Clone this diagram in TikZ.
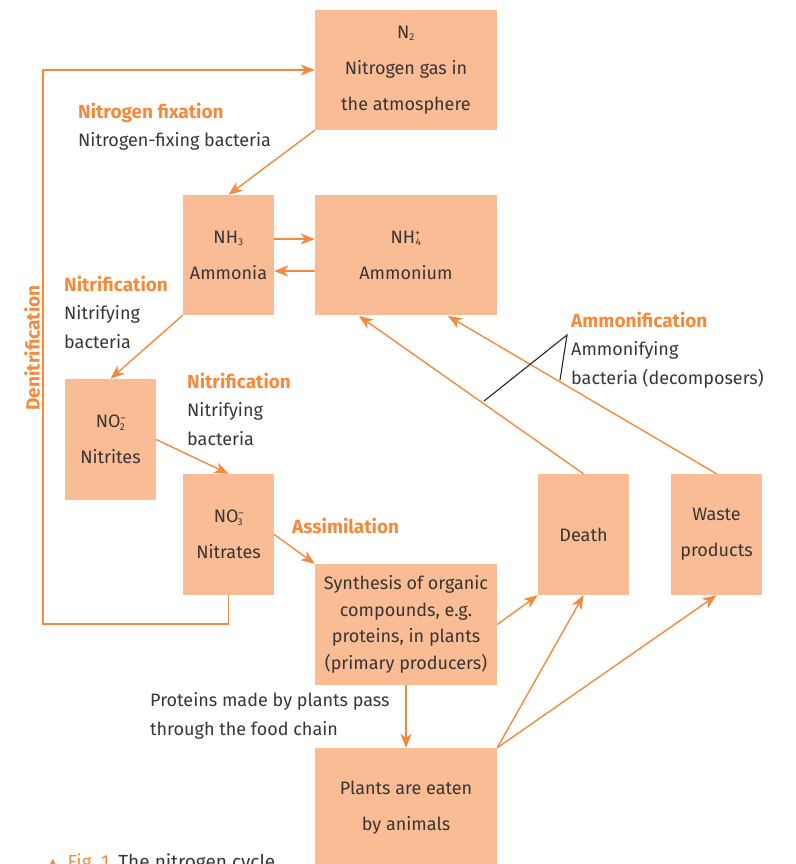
\documentclass[tikz,border=0pt]{standalone}
\usepackage{fontspec}
\setmainfont{Fira Sans}
\newfontfamily\symfont{DejaVu Sans}
\usetikzlibrary{arrows.meta}
\definecolor{boxfill}{HTML}{F9BC94}
\definecolor{orng}{HTML}{F58A3C}
\definecolor{txt}{HTML}{383535}
\tikzset{
  box/.style={fill=boxfill, inner sep=0pt, align=center, text=txt,
    font=\fontsize{18}{36}\selectfont},
  arr/.style={draw=orng, line width=1.4pt, -{Stealth[length=14pt,width=11pt,inset=4pt]}},
  proc/.style={text=orng, font=\fontsize{19}{29}\selectfont\bfseries, inner sep=0pt, anchor=north west, align=left},
  lab/.style={text=txt, font=\fontsize{18}{29.5}\selectfont, inner sep=0pt, anchor=north west, align=left},
  brk/.style={draw=black!85, line width=1.1pt}
}
\begin{document}
\begin{tikzpicture}[x=1pt,y=-1pt]
\useasboundingbox (0,0) rectangle (795,864);
% boxes
\node[box, minimum width=182pt, minimum height=120pt] (n2) at (406,70) {N\textsubscript{\fontsize{10}{10}\selectfont 2}\\Nitrogen gas in\\the atmosphere};
\node[box, minimum width=91pt, minimum height=120pt] (nh3) at (228.5,255) {NH\textsubscript{\fontsize{10}{10}\selectfont 3}\\Ammonia};
\node[box, minimum width=182pt, minimum height=120pt] (nh4) at (406,255) {NH\textsuperscript{\fontsize{10}{10}\selectfont +}\kern-5pt\textsubscript{\fontsize{10}{10}\selectfont 4}\\Ammonium};
\node[box, minimum width=91pt, minimum height=121pt] (no2) at (110.5,439.5) {NO\textsuperscript{\fontsize{10}{10}\selectfont --}\kern-6.5pt\textsubscript{\fontsize{10}{10}\selectfont 2}\\Nitrites};
\node[box, minimum width=91pt, minimum height=121pt] (no3) at (228.5,534.5) {NO\textsuperscript{\fontsize{10}{10}\selectfont --}\kern-6.5pt\textsubscript{\fontsize{10}{10}\selectfont 3}\\Nitrates};
\node[box, minimum width=182pt, minimum height=121pt, font=\fontsize{18}{26.7}\selectfont] (syn) at (406,624.5) {Synthesis of organic\\compounds, e.g.\\proteins, in plants\\(primary producers)};
\node[box, minimum width=91pt, minimum height=121pt] (death) at (583.5,534.5) {Death};
\node[box, minimum width=91pt, minimum height=121pt] (waste) at (716.5,534.5) {Waste\\products};
\node[box, minimum width=182pt, minimum height=120pt] (plants) at (406,808) {Plants are eaten\\by animals};
% labels
\node[proc] (fixh) at (78,103) {Nitrogen fixation};
\node[lab] (fixb) at (78,132) {Nitrogen-fixing bacteria};
\node[proc] (nit1h) at (64,276) {Nitrification};
\node[lab] (nit1b) at (64,305) {Nitrifying\\bacteria};
\node[proc] (nit2h) at (187,373) {Nitrification};
\node[lab] (nit2b) at (187,402) {Nitrifying\\bacteria};
\node[proc] (assim) at (292,518) {Assimilation};
\node[proc] (ammh) at (571,312) {Ammonification};
\node[lab] (ammb) at (571,341) {Ammonifying\\bacteria (decomposers)};
\node[lab] (food) at (150,692) {Proteins made by plants pass\\through the food chain};
\node[text=orng, font=\fontsize{19}{20}\selectfont\bfseries, rotate=90, inner sep=0pt] (denit) at (32,348) {Denitrification};
\node[anchor=base west, inner sep=0pt, font=\fontsize{19}{20}\selectfont] (cap) at (47,868) {\textcolor{orng}{{\symfont\fontsize{15}{15}\selectfont ▲}\hspace{9pt}Fig.\hspace{5pt}1}\hspace{9pt}\textcolor{txt}{The nitrogen cycle}};
% coordinates
\coordinate (dn) at (43,624);
\coordinate (t1) at (359,316);
\coordinate (t2) at (448,316);
\coordinate (b1) at (484,401);
\coordinate (b2) at (567,335);
\coordinate (b3) at (560,380);
% connectors
\draw[arr] (no3.south) |- (dn) |- (n2.west);
\draw[arr] (n2.south west) -- (nh3.north);
\draw[arr] ([yshift=16pt]nh3.east) -- ([yshift=16pt]nh4.west);
\draw[arr] ([yshift=-16pt]nh4.west) -- ([yshift=-16pt]nh3.east);
\draw[arr] (nh3.south west) -- (no2.north);
\draw[arr] (no2.east) -- (no3.north);
\draw[arr] (no3.east) -- (syn.north west);
\draw[arr] (syn.east) -- (death.south west);
\draw[arr] (syn.south) -- (plants.north);
\draw[arr] (plants.north east) -- (death.south);
\draw[arr] (plants.north east) -- (waste.south);
\draw[arr] (death.north) -- (t1);
\draw[arr] (waste.north) -- (t2);
\draw[brk] (b1) -- (b2) -- (b3);
\end{tikzpicture}
\end{document}
